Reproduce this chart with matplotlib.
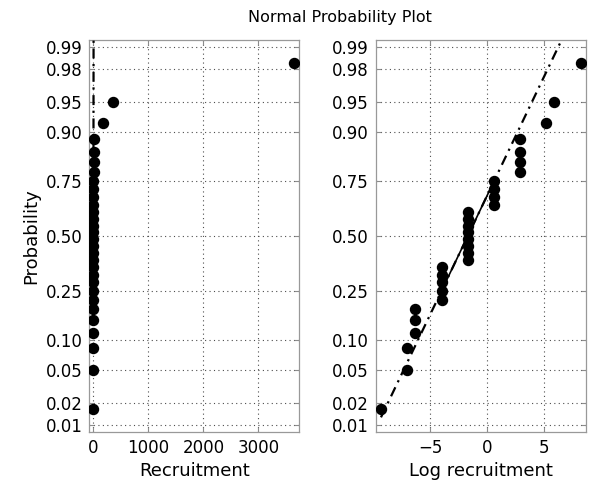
import numpy as np
import matplotlib
matplotlib.use('Agg')
import matplotlib.pyplot as plt
from statistics import NormalDist

# recruitment values (sorted)
recruitment = [9.1e-5, 9.0e-4, 9.0e-4, 1.8e-3, 1.8e-3, 1.8e-3,
               0.0185, 0.0185, 0.0185, 0.0185, 0.0185,
               0.19, 0.19, 0.19, 0.19, 0.19, 0.19, 0.19, 0.19,
               1.84, 1.84, 1.84, 1.84,
               17.5, 17.5, 17.5, 17.5,
               181, 351, 3650]

prob_ticks = [0.01, 0.02, 0.05, 0.10, 0.25, 0.50, 0.75, 0.90, 0.95, 0.98, 0.99]
left_xticks = [0, 1000, 2000, 3000]
right_xticks = [-5, 0, 5]

nd = NormalDist()
Z_LIM = 2.41


def prob_to_z(p):
    p = np.clip(np.asarray(p, dtype=float), 1e-9, 1 - 1e-9)
    return np.vectorize(nd.inv_cdf, otypes=[float])(p)


def z_to_prob(z):
    return np.vectorize(nd.cdf, otypes=[float])(np.asarray(z, dtype=float))


def normplot(ax, data, xlim, xticks, xlabel):
    data = np.sort(np.asarray(data, dtype=float))
    n = len(data)
    pos = (np.arange(1, n + 1) - 0.5) / n

    # reference line through the quartiles, like matlab normplot
    q1, q3 = np.percentile(data, [25, 75])
    z1, z3 = nd.inv_cdf(0.25), nd.inv_cdf(0.75)
    slope = (z3 - z1) / (q3 - q1)
    # keep the line inside the probability range so it stays straight
    x_lo = max(data.min(), q1 + (-Z_LIM - z1) / slope)
    x_hi = min(data.max(), q1 + (Z_LIM - z1) / slope)
    ends = np.array([x_lo, x_hi])
    p_ends = z_to_prob(z1 + (ends - q1) * slope)

    ax.set_yscale('function', functions=(prob_to_z, z_to_prob))
    ax.plot(ends, p_ends, color='black', lw=1.6, ls=(0, (4.5, 2.5, 1, 2.5)), zorder=3)
    ax.plot([q1, q3], [0.25, 0.75], color='black', lw=1.2, zorder=3)
    ax.plot(data, pos, 'o', color='black', ms=7.2, zorder=4)

    ax.set_xlim(xlim)
    ax.set_ylim(nd.cdf(-Z_LIM), nd.cdf(Z_LIM))
    ax.set_xticks(xticks)
    ax.set_yticks(prob_ticks)
    ax.set_yticklabels(['%.2f' % p for p in prob_ticks])
    ax.yaxis.set_minor_locator(matplotlib.ticker.NullLocator())
    ax.grid(True, color='0.3', lw=0.8, ls=(0, (1, 3)))
    ax.tick_params(direction='in', length=3.5, width=0.8, color='0.55',
                   top=True, right=True, labelsize=12, pad=5)
    for s in ax.spines.values():
        s.set_color('0.6')
        s.set_linewidth(0.9)
    ax.set_xlabel(xlabel, fontsize=13)


fig = plt.figure(figsize=(5.9, 4.8), dpi=100)
ax1 = fig.add_axes([0.1514, 0.1006, 0.3554, 0.8161])
ax2 = fig.add_axes([0.6373, 0.1006, 0.3554, 0.8161])

normplot(ax1, recruitment, (-73, 3740), left_xticks, 'Recruitment')
normplot(ax2, np.log(recruitment), (-9.74, 8.64), right_xticks, 'Log recruitment')
ax1.set_ylabel('Probability', fontsize=13, labelpad=4)

fig.text(0.576, 0.963, 'Normal Probability Plot', ha='center', va='center', fontsize=11.5)

fig.savefig('out.png', dpi=100)
